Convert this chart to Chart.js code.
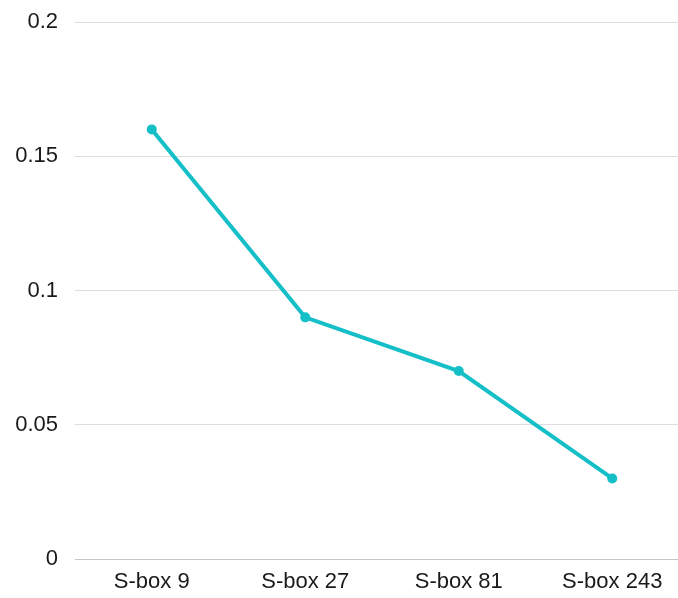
<!DOCTYPE html>
<html>
<head>
<meta charset="utf-8">
<script src="https://cdn.jsdelivr.net/npm/chart.js@4/dist/chart.umd.min.js"></script>
<style>
  html, body { margin: 0; padding: 0; background: #fff; overflow: hidden; }
  #wrap { width: 694px; height: 598px; }
</style>
</head>
<body>
<div id="wrap"><canvas id="sbox" width="694" height="598"></canvas></div>
<script>
var labels = ['S-box 9', 'S-box 27', 'S-box 81', 'S-box 243'];
var values = [0.16, 0.09, 0.07, 0.03];
var yTicks = [0, 0.05, 0.1, 0.15, 0.2];

var lineColor = '#14bfc7';

var ctx = document.getElementById('sbox').getContext('2d');
var myChart = new Chart(ctx, {
    type: 'line',
    data: {
        labels: labels,
        datasets: [{
            data: values,
            borderColor: lineColor,
            backgroundColor: lineColor,
            borderWidth: 4,
            pointRadius: 5,
            pointBorderWidth: 0,
            tension: 0
        }]
    },
    options: {
        responsive: false,
        animation: false,
        layout: { padding: { top: 22, left: 0, right: 0, bottom: 0 } },
        plugins: { legend: { display: false }, tooltip: { enabled: false } },
        scales: {
            x: {
                offset: true,
                grid: { display: false, drawTicks: false },
                border: { display: false },
                ticks: {
                    color: '#1a1a1a',
                    padding: 10,
                    font: { family: 'Liberation Sans', size: 22 }
                },
                afterFit: function (s) { s.height = 39 }
            },
            y: {
                min: 0,
                max: 0.2,
                afterBuildTicks: function (s) {
                    s.ticks = yTicks.map(function (v) { return { value: v } })
                },
                grid: {
                    drawTicks: false,
                    lineWidth: 1,
                    color: function (c) { return c.tick && c.tick.value === 0 ? '#c6c6c6' : '#dedede' }
                },
                border: { display: false },
                ticks: {
                    color: '#1a1a1a',
                    padding: 17,
                    font: { family: 'Liberation Sans', size: 22 },
                    callback: function (v) { return String(v) }
                },
                afterFit: function (s) {
                    s.width = 75
                    s.paddingTop = 0
                    s.paddingBottom = 0
                }
            }
        }
    }
});
</script>
</body>
</html>
